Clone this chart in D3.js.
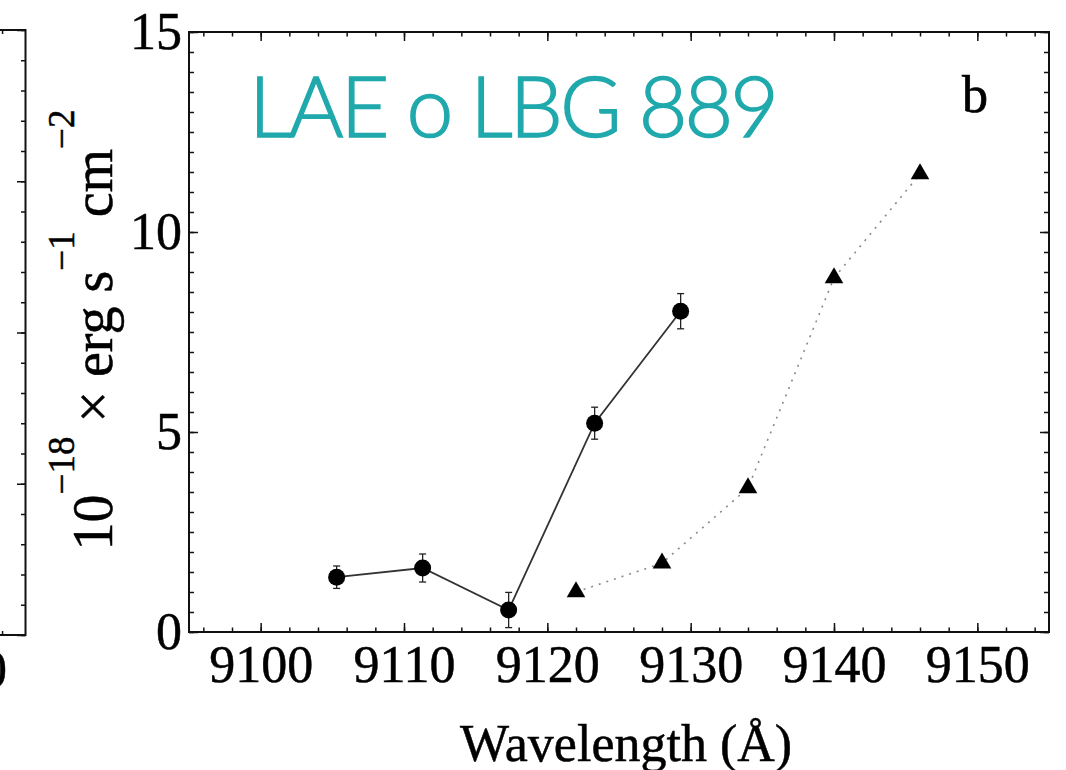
<!DOCTYPE html>
<html><head><meta charset="utf-8">
<script src="https://cdn.jsdelivr.net/npm/d3@7"></script>
<style>
body{margin:0;background:#fff;}
svg{display:block;}
</style></head>
<body>
<svg id="chart" width="1066" height="770"></svg>
<script>
// ---- data ----
const circleWavelength = [9105.3, 9111.3, 9117.3, 9123.3, 9129.3];
const circleFlux       = [1.37, 1.6, 0.55, 5.22, 8.02];
const circleError      = [0.28, 0.35, 0.44, 0.40, 0.44];
const triangleWavelength = [9122, 9128, 9134, 9140, 9146];
const triangleFlux       = [1.0, 1.72, 3.6, 8.85, 11.45];
const xTickLabels = [9100, 9110, 9120, 9130, 9140, 9150];
const yTickLabels = [0, 5, 10, 15];
const xDomain = [9095, 9155];
const yDomain = [0, 15];
const titleText = "LAE o LBG 889";
const panelLabel = "b";
const xTitle = "Wavelength (Å)";

const svg = d3.select("#chart");
const L = 189, R = 1049, T = 32, B = 632;
const x = d3.scaleLinear().domain(xDomain).range([L, R]);
const y = d3.scaleLinear().domain(yDomain).range([B, T]);
const serif = "'Liberation Serif','Times New Roman',serif";

function styleAxis(g){ g.select(".domain").remove(); g.selectAll(".tick line").attr("stroke","#111").attr("stroke-width",1.5); }

// ---- partial left panel ----
const yLeft = d3.scaleLinear().domain([0, 20]).range([635, 30]);
const xLeft = d3.scaleLinear().domain([0, 1]).range([-300, 25.5]);
const gl = svg.append("g");
gl.append("path").attr("d", `M-5,30 H25.5 V635 H-5`).attr("fill","none").attr("stroke","#111").attr("stroke-width",2);
gl.append("g").attr("transform","translate(25.5,0)")
  .call(d3.axisLeft(yLeft).tickValues(d3.range(0,21,1)).tickSizeInner(4.5).tickSizeOuter(0).tickFormat(""))
  .call(styleAxis);
gl.append("g").attr("transform","translate(25.5,0)")
  .call(d3.axisLeft(yLeft).tickValues([0,5,10,15,20]).tickSizeInner(8.5).tickSizeOuter(0).tickFormat(""))
  .call(styleAxis);
gl.append("g").attr("transform","translate(0,30)")
  .call(d3.axisTop(xLeft).tickValues([0.928]).tickSizeInner(-4).tickSizeOuter(0).tickFormat("")).call(styleAxis);
gl.append("g").attr("transform","translate(0,635)")
  .call(d3.axisBottom(xLeft).tickValues([0.928]).tickSizeInner(-4).tickSizeOuter(0).tickFormat("")).call(styleAxis);
gl.append("text").attr("x",7).attr("y",687).attr("text-anchor","end")
  .style("font-family",serif).style("font-size","52px").attr("stroke","#000").attr("stroke-width",0.5).text("0");

// ---- main frame ticks ----
const xMinor = d3.range(9096, 9155, 2);
const yMinor = d3.range(0, 15.01, 0.5);

// bottom
svg.append("g").attr("transform",`translate(0,${B})`)
  .call(d3.axisBottom(x).tickValues(xMinor).tickSizeInner(-4.5).tickSizeOuter(0).tickFormat("")).call(styleAxis);
const xAx = svg.append("g").attr("transform",`translate(0,${B})`)
  .call(d3.axisBottom(x).tickValues(xTickLabels).tickSizeInner(-9).tickSizeOuter(0).tickPadding(13).tickFormat(d3.format("d")))
  .call(styleAxis);
xAx.selectAll("text").style("font-family",serif).style("font-size","52px").attr("fill","#000")
  .attr("stroke","#000").attr("stroke-width",0.5);
// top
svg.append("g").attr("transform",`translate(0,${T})`)
  .call(d3.axisTop(x).tickValues(xMinor).tickSizeInner(-4.5).tickSizeOuter(0).tickFormat("")).call(styleAxis);
svg.append("g").attr("transform",`translate(0,${T})`)
  .call(d3.axisTop(x).tickValues(xTickLabels).tickSizeInner(-9).tickSizeOuter(0).tickFormat("")).call(styleAxis);
// left
svg.append("g").attr("transform",`translate(${L},0)`)
  .call(d3.axisLeft(y).tickValues(yMinor).tickSizeInner(-5).tickSizeOuter(0).tickFormat("")).call(styleAxis);
const yAx = svg.append("g").attr("transform",`translate(${L},0)`)
  .call(d3.axisLeft(y).tickValues(yTickLabels).tickSizeInner(-9).tickSizeOuter(0).tickPadding(7).tickFormat(d3.format("d")))
  .call(styleAxis);
yAx.selectAll("text").style("font-family",serif).style("font-size","52px").attr("fill","#000")
  .attr("stroke","#000").attr("stroke-width",0.5);
// right
svg.append("g").attr("transform",`translate(${R},0)`)
  .call(d3.axisRight(y).tickValues(yMinor).tickSizeInner(-5).tickSizeOuter(0).tickFormat("")).call(styleAxis);
svg.append("g").attr("transform",`translate(${R},0)`)
  .call(d3.axisRight(y).tickValues(yTickLabels).tickSizeInner(-9).tickSizeOuter(0).tickFormat("")).call(styleAxis);

svg.append("rect").attr("x",L).attr("y",T).attr("width",R-L).attr("height",B-T)
  .attr("fill","none").attr("stroke","#111").attr("stroke-width",2);

// ---- data series ----
const circles = circleWavelength.map((w,i)=>({w, f:circleFlux[i], e:circleError[i]}));
const tris = triangleWavelength.map((w,i)=>({w, f:triangleFlux[i]}));

svg.append("path").datum(tris)
  .attr("d", d3.line().x(d=>x(d.w)).y(d=>y(d.f)))
  .attr("fill","none").attr("stroke","#8a8a8a").attr("stroke-width",1.6).attr("stroke-dasharray","2,6");
svg.append("path").datum(circles)
  .attr("d", d3.line().x(d=>x(d.w)).y(d=>y(d.f)))
  .attr("fill","none").attr("stroke","#333").attr("stroke-width",1.8);

const eb = svg.append("g").attr("stroke","#222").attr("stroke-width",1.3);
circles.forEach(d=>{
  const cx = x(d.w), y1 = y(d.f + d.e), y2 = y(d.f - d.e);
  eb.append("line").attr("x1",cx).attr("x2",cx).attr("y1",y1).attr("y2",y2);
  eb.append("line").attr("x1",cx-3.5).attr("x2",cx+3.5).attr("y1",y1).attr("y2",y1);
  eb.append("line").attr("x1",cx-3.5).attr("x2",cx+3.5).attr("y1",y2).attr("y2",y2);
});
svg.append("g").selectAll("circle").data(circles).join("circle")
  .attr("cx",d=>x(d.w)).attr("cy",d=>y(d.f)).attr("r",8.5).attr("fill","#000");
svg.append("g").selectAll("path").data(tris).join("path")
  .attr("transform",d=>`translate(${x(d.w)},${y(d.f)})`)
  .attr("d", d3.symbol(d3.symbolTriangle, 150)).attr("fill","#000");

// ---- texts ----
svg.append("text").attr("x",249).attr("y",137)
  .style("font-family","Lato, 'Open Sans', sans-serif").style("font-size","84px").style("font-weight",300)
  .attr("fill","#20a9ac").attr("stroke","#20a9ac").attr("stroke-width",1.4)
  .attr("textLength",530).attr("lengthAdjust","spacing").text(titleText);
svg.append("text").attr("x",975).attr("y",112).attr("text-anchor","middle")
  .style("font-family",serif).style("font-size","52px").attr("stroke","#000").attr("stroke-width",0.7).text(panelLabel);
svg.append("text").attr("x",(L+R)/2 + 7).attr("y",761).attr("text-anchor","middle")
  .style("font-family",serif).style("font-size","52px").attr("stroke","#000").attr("stroke-width",0.5).text(xTitle);

// y title
const yt = svg.append("text").attr("transform","translate(112,330) rotate(-90)")
  .attr("text-anchor","middle").style("font-family",serif).style("font-size","56px")
  .attr("stroke","#000").attr("stroke-width",0.5);
const parts = [["10",0],["−18",1],[" × erg s",0],["−1",1],[" cm",0],["−2",1]];
let cur = 0;
parts.forEach(([t,sup])=>{
  const target = sup ? -38 : 0;
  const ts = yt.append("tspan").attr("dy", target - cur).text(t);
  if (sup) ts.style("font-size","37px");
  cur = target;
});
</script>
</body></html>
